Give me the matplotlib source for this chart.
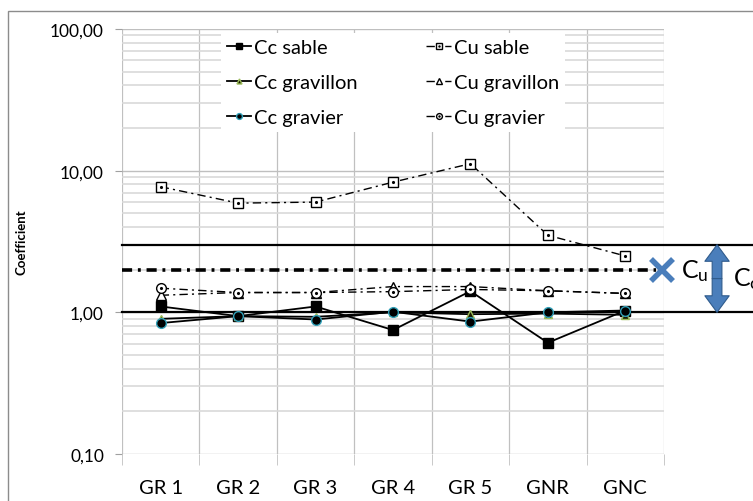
import numpy as np
import matplotlib.pyplot as plt
from matplotlib.patches import Rectangle
from matplotlib.ticker import FixedLocator, NullFormatter, FuncFormatter

plt.rcParams['font.family'] = ['Lato', 'DejaVu Sans']

categories = ['GR 1', 'GR 2', 'GR 3', 'GR 4', 'GR 5', 'GNR', 'GNC']
cc_sable = [1.10, 0.94, 1.10, 0.75, 1.41, 0.61, 1.03]
cc_gravillon = [0.90, 0.94, 0.93, 1.00, 0.97, 0.98, 0.96]
cc_gravier = [0.84, 0.94, 0.89, 1.01, 0.86, 1.00, 1.03]
cu_sable = [7.7, 5.9, 6.0, 8.3, 11.2, 3.5, 2.5]
cu_gravillon = [1.32, 1.38, 1.38, 1.52, 1.52, 1.42, 1.36]
cu_gravier = [1.48, 1.38, 1.38, 1.40, 1.45, 1.42, 1.36]
limit_cu = 2.0
limit_cc = [1.0, 3.0]

x = np.arange(len(categories))

fig = plt.figure(figsize=(7.53, 5.02), dpi=100)
fig.patches.append(Rectangle((8 / 753, -0.1), 1.2, 1.1 - 12 / 502, transform=fig.transFigure,
                             fill=False, edgecolor='#8c8c8c', lw=1))
ax = fig.add_axes([122 / 753, 47 / 502, 542 / 753, 425 / 502])
ax.set_yscale('log')
ax.set_ylim(0.1, 100)
ax.set_xlim(-0.5, len(categories) - 0.5)

# grid
ax.yaxis.set_major_locator(FixedLocator([0.1, 1, 10, 100]))
ax.yaxis.set_minor_locator(FixedLocator([m * d for d in [0.1, 1, 10] for m in range(2, 10)]))
ax.yaxis.set_minor_formatter(NullFormatter())
ax.yaxis.set_major_formatter(FuncFormatter(lambda v, p: ('%.2f' % v).replace('.', ',')))
ax.grid(which='major', axis='y', color='#bfbfbf', lw=1)
ax.grid(which='minor', axis='y', color='#d9d9d9', lw=1.2)
ax.set_xticks(x)
ax.set_xticklabels(categories, fontsize=14.5)
ax.set_xticks(np.arange(-0.5, len(categories)), minor=True)
ax.grid(which='minor', axis='x', color='#c0c0c0', lw=0.9)
ax.tick_params(axis='x', which='major', length=0, pad=18)
ax.tick_params(axis='x', which='minor', length=8, color='#c0c0c0')
ax.tick_params(axis='y', which='major', length=5, color='#a0a0a0', labelsize=12.5, pad=8)
ax.tick_params(axis='y', which='minor', length=0)
for s in ax.spines.values():
    s.set_visible(False)
ax.set_ylabel('Coefficient', fontsize=9.5, fontweight='bold', labelpad=16)

# limit lines
for v in limit_cc:
    ax.axhline(v, xmin=0, xmax=1.3, color='black', lw=1.6, clip_on=False, zorder=4)
ax.axhline(limit_cu, xmin=0, xmax=0.985, color='black', lw=2.6,
           linestyle=(0, (2.8, 1.6, 0.8, 1.6)), clip_on=False, zorder=4)

dash = (0, (6, 3, 1.5, 3))
l1, = ax.plot(x, cc_sable, color='black', lw=1.3, marker='s', ms=7, mfc='black', mec='black', zorder=5)
l2, = ax.plot(x, cc_gravillon, color='black', lw=1.3, marker='^', ms=6, mfc='#1a1a00', mec='#9bbb59', zorder=5)
l3, = ax.plot(x, cc_gravier, color='black', lw=1.3, marker='o', ms=7, mfc='black', mec='#31a0b8', zorder=5)
l4, = ax.plot(x, cu_sable, color='black', lw=1, linestyle=dash, marker='s', ms=7, mfc='white', mec='black', zorder=5)
d4, = ax.plot(x, cu_sable, linestyle='none', marker='.', ms=2.5, color='black', zorder=6)
l5, = ax.plot(x, cu_gravillon, color='black', lw=1, linestyle=dash, marker='^', ms=7, mfc='white', mec='black', zorder=5)
l6, = ax.plot(x, cu_gravier, color='black', lw=1, linestyle=dash, marker='o', ms=7, mfc='white', mec='black', zorder=5)
d6, = ax.plot(x, cu_gravier, linestyle='none', marker='.', ms=2.5, color='black', zorder=6)

leg = ax.legend([l1, l2, l3, (l4, d4), l5, (l6, d6)],
                ['Cc sable', 'Cc gravillon', 'Cc gravier', 'Cu sable', 'Cu gravillon', 'Cu gravier'],
                ncol=2, loc='upper center', bbox_to_anchor=(0.5, 1.015), fontsize=14.5,
                frameon=True, framealpha=1, edgecolor='none', fancybox=False,
                handlelength=1.2, handletextpad=0.15, labelspacing=0.9, columnspacing=3.4,
                markerscale=0.6, borderpad=0.3)
leg.set_zorder(7)

# annotations on the right
blue = '#4a7ebb'
xc = len(categories) - 0.5
ax.plot([xc - 0.03], [limit_cu], marker='x', ms=16, mew=4, color=blue, clip_on=False, zorder=8)
ax.text(xc + 0.22, limit_cu, r'$\mathregular{C_u}$', fontsize=18, va='center', ha='left', clip_on=False)
xa = xc + 0.685
mid = np.sqrt(limit_cc[0] * limit_cc[1])
for y_end in limit_cc:
    ax.annotate('', xy=(xa, y_end), xytext=(xa, mid),
                arrowprops=dict(arrowstyle='simple,head_width=1.25,head_length=0.85,tail_width=0.5',
                                mutation_scale=14, fc=blue, ec='#2f5b8c', lw=0.8,
                                shrinkA=0, shrinkB=0),
                annotation_clip=False, zorder=8)
ax.text(xa + 0.2, mid, r'$\mathregular{C_c}$', fontsize=18, va='center', ha='left', clip_on=False)

fig.savefig('out.png', dpi=100)
